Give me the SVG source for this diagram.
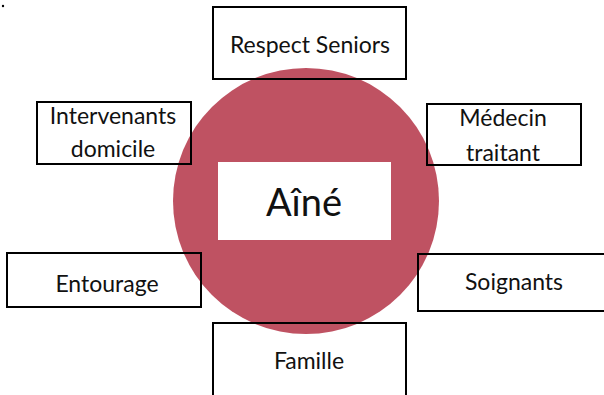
<svg xmlns="http://www.w3.org/2000/svg" width="604" height="395" viewBox="0 0 604 395">
<style>
.box{fill:none;stroke:#000;stroke-width:2}
.lbl{font-family:Lato,"Open Sans",sans-serif;font-size:23px;fill:#111;text-anchor:middle}
</style>
<rect width="604" height="395" fill="#fff"/>
<circle cx="3" cy="6" r="1.2" fill="#000"/>
<g id="center">
<circle cx="306" cy="201" r="133" fill="#BF5262"/>
<rect x="218" y="162" width="173" height="78" fill="#fff"/>
<text x="304" y="216" class="lbl" style="font-size:38px">Aîné</text>
</g>
<g id="connectors"></g>
<g id="respect"><rect class="box" x="213" y="7" width="193" height="72"/><text class="lbl" x="310" y="53">Respect Seniors</text></g>
<g id="intervenants"><rect class="box" x="37" y="102" width="154" height="62"/><text class="lbl" x="113" y="124">Intervenants</text><text class="lbl" x="113" y="157">domicile</text></g>
<g id="medecin"><rect class="box" x="427" y="104" width="154" height="61"/><text class="lbl" x="503" y="126">Médecin</text><text class="lbl" x="503" y="161">traitant</text></g>
<g id="entourage"><rect class="box" x="7" y="253" width="194" height="54"/><text class="lbl" x="107" y="292">Entourage</text></g>
<g id="soignants"><rect class="box" x="418" y="254" width="194" height="57"/><text class="lbl" x="514" y="290">Soignants</text></g>
<g id="famille"><rect class="box" x="213" y="323" width="193" height="80"/><text class="lbl" x="309" y="369">Famille</text></g>
</svg>
